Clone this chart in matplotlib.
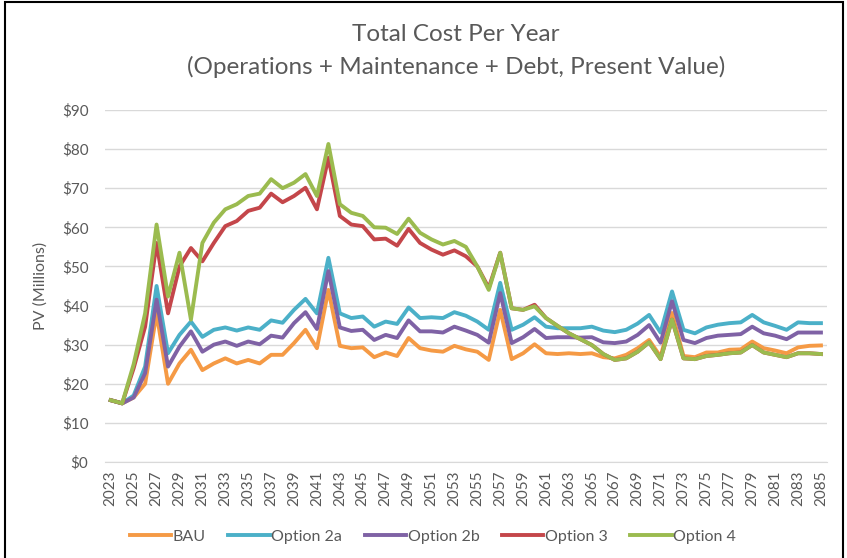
import numpy as np
import matplotlib
matplotlib.use("Agg")
import matplotlib.pyplot as plt
from matplotlib.patches import Rectangle

plt.rcParams['font.family'] = ['Lato', 'DejaVu Sans']

years = list(range(2023, 2086))

bau = [15.8, 15.0, 16.5, 20.0, 38.0, 20.0, 25.2, 28.7,
       23.5, 25.2, 26.5, 25.2, 26.1, 25.2, 27.4, 27.4, 30.4, 33.8,
       29.1, 44.0, 29.7, 29.1, 29.3, 26.8, 28.0, 27.1, 31.7, 29.1,
       28.5, 28.2, 29.7, 28.8, 28.2, 26.1, 38.9, 26.3, 27.8, 30.1,
       27.8, 27.6, 27.8, 27.6, 27.8, 26.8, 26.5, 27.4, 29.1, 31.2,
       26.9, 38.1, 27.1, 26.8, 28.0, 28.0, 28.7, 28.8, 30.8, 29.1,
       28.5, 27.8, 29.3, 29.7, 29.8]
opt2a = [15.8, 15.0, 17.0, 24.4, 45.0, 27.8, 32.5, 35.9,
         32.0, 33.8, 34.4, 33.6, 34.4, 33.8, 36.2, 35.6, 38.9, 41.7,
         38.0, 52.2, 38.0, 36.8, 37.2, 34.6, 35.9, 35.3, 39.5, 36.8,
         37.0, 36.8, 38.3, 37.4, 35.9, 33.8, 45.8, 33.8, 35.1, 37.0,
         34.6, 34.2, 34.2, 34.2, 34.6, 33.6, 33.2, 33.8, 35.4, 37.6,
         33.1, 43.6, 33.8, 32.9, 34.4, 35.1, 35.5, 35.7, 37.6, 35.7,
         34.8, 33.8, 35.7, 35.5, 35.5]
opt2b = [15.8, 15.0, 16.5, 22.7, 41.5, 24.4, 29.5, 33.4,
         28.2, 30.0, 30.8, 29.7, 30.8, 30.1, 32.3, 31.8, 35.5, 38.3,
         34.0, 48.8, 34.4, 33.5, 33.8, 31.2, 32.5, 31.7, 36.2, 33.4,
         33.4, 33.1, 34.6, 33.6, 32.5, 30.5, 43.2, 30.4, 31.9, 34.0,
         31.7, 31.9, 31.9, 31.8, 31.9, 30.6, 30.4, 30.8, 32.5, 35.0,
         30.5, 41.1, 31.2, 30.4, 31.7, 32.3, 32.5, 32.7, 34.6, 32.9,
         32.3, 31.4, 33.1, 33.1, 33.1]
opt3 = [15.8, 15.0, 24.0, 34.6, 56.0, 38.0, 50.0, 54.7,
        51.3, 56.0, 60.3, 61.6, 64.2, 65.0, 68.6, 66.4, 68.0, 70.1,
        64.6, 77.8, 62.9, 60.7, 60.3, 56.9, 57.1, 55.3, 59.6, 56.0,
        54.3, 53.0, 54.1, 52.6, 50.0, 44.5, 53.5, 39.3, 38.9, 40.2,
        36.8, 34.8, 32.9, 31.4, 29.9, 27.6, 26.1, 26.5, 28.2, 30.6,
        26.3, 36.4, 26.5, 26.3, 27.1, 27.4, 27.8, 28.0, 29.9, 28.0,
        27.4, 26.8, 27.8, 27.8, 27.6]
opt4 = [15.8, 15.0, 25.0, 38.0, 60.7, 42.3, 53.5, 36.4,
        56.0, 61.2, 64.6, 65.9, 68.0, 68.6, 72.3, 70.0, 71.4, 73.6,
        68.0, 81.3, 65.9, 63.7, 62.9, 60.0, 59.9, 58.3, 62.2, 58.6,
        56.9, 55.6, 56.5, 55.0, 50.0, 44.0, 53.5, 39.3, 38.9, 39.8,
        36.8, 34.8, 32.9, 31.4, 29.9, 27.6, 26.1, 26.5, 28.2, 30.6,
        26.3, 36.4, 26.5, 26.3, 27.1, 27.4, 27.8, 28.0, 29.9, 28.0,
        27.4, 26.8, 27.8, 27.8, 27.6]

series = [("BAU", bau, "#F59A45"),
          ("Option 2a", opt2a, "#4BB0C8"),
          ("Option 2b", opt2b, "#7F62A5"),
          ("Option 3", opt3, "#C4464A"),
          ("Option 4", opt4, "#9BBB4F")]

fig = plt.figure(figsize=(8.47, 5.58), dpi=100)
ax = fig.add_axes([0.124, 0.172, 0.852, 0.631])

x = np.arange(len(years))
for name, vals, col in series:
    ax.plot(x, vals, color=col, lw=2.8, label=name, solid_joinstyle='round')

ax.set_xlim(-0.5, len(years) - 0.5)
ax.set_ylim(0, 90)
ax.set_yticks(range(0, 91, 10))
ax.set_yticklabels(["$%d" % v for v in range(0, 91, 10)])
ax.set_xticks(x[::2])
ax.set_xticklabels([str(y) for y in years[::2]], rotation=90)
ax.tick_params(length=0, labelsize=11, colors="#595959")
ax.tick_params(axis='y', pad=12)
ax.tick_params(axis='x', pad=6)
ax.grid(axis='y', color="#D9D9D9", lw=1)
ax.set_axisbelow(True)
for s in ["top", "right", "left"]:
    ax.spines[s].set_visible(False)
ax.spines["bottom"].set_color("#D9D9D9")

ax.set_ylabel("PV (Millions)", fontsize=11.5, color="#595959", labelpad=10)

fig.text(0.538, 0.938, "Total Cost Per Year", ha='center', va='center',
         fontsize=17.5, color="#595959")
fig.text(0.538, 0.88, "(Operations + Maintenance + Debt, Present Value)",
         ha='center', va='center', fontsize=17.5, color="#595959")

fig.legend(loc='center', bbox_to_anchor=(0.511, 0.038), ncol=5, frameon=False,
           fontsize=11.5, labelcolor="#595959", handlelength=2.6,
           handletextpad=0.1, columnspacing=1.4)

fig.patches.append(Rectangle((0.006, -0.01), 0.989, 1.006,
                             transform=fig.transFigure, fill=False,
                             edgecolor="black", lw=1.5))

fig.savefig("out.png", dpi=100)
